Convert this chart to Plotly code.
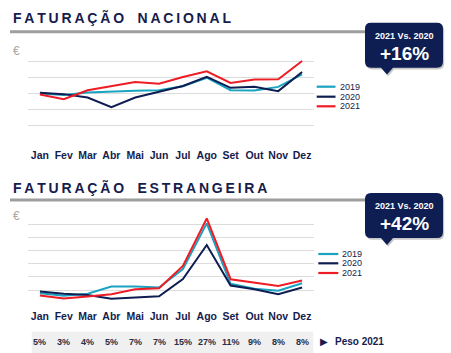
import plotly.graph_objects as go

W, H = 451, 353
def X(p): return p / W
def Y(p): return 1 - p / H

months = ["Jan", "Fev", "Mar", "Abr", "Mai", "Jun", "Jul", "Ago", "Set", "Out", "Nov", "Dez"]
series_names = ["2019", "2020", "2021"]

# Faturação Nacional (relative scale)
nac_2019 = [3.00, 2.90, 3.06, 3.13, 3.17, 3.21, 3.46, 4.00, 3.21, 3.19, 3.42, 4.21]
nac_2020 = [3.04, 2.96, 2.75, 2.14, 2.75, 3.10, 3.48, 4.05, 3.36, 3.42, 3.15, 4.36]
nac_2021 = [2.94, 2.64, 3.21, 3.48, 3.73, 3.62, 4.05, 4.41, 3.67, 3.88, 3.90, 5.06]

# Faturação Estrangeira
est_2019 = [0.76, 0.56, 0.71, 1.26, 1.26, 1.19, 2.60, 6.07, 1.47, 1.09, 0.94, 1.52]
est_2020 = [0.88, 0.71, 0.63, 0.33, 0.43, 0.53, 1.84, 4.42, 1.34, 1.06, 0.68, 1.19]
est_2021 = [0.58, 0.35, 0.51, 0.68, 1.06, 1.14, 2.83, 6.44, 1.82, 1.57, 1.31, 1.72]

peso_2021 = ["5%", "3%", "4%", "5%", "7%", "7%", "15%", "27%", "11%", "9%", "8%", "8%"]

titles = ["FATURAÇÃO NACIONAL", "FATURAÇÃO ESTRANGEIRA"]
badge_label = "2021 Vs. 2020"
badge_values = ["+16%", "+42%"]
peso_label = "Peso 2021"

colors = ["#1AA3C0", "#0E1D52", "#EE1C25"]
NAVY = "#0E1D52"
TEXT = "#161C4C"
FONT = "Liberation Sans, Arial, sans-serif"

fig = go.Figure()
for vals, name, c in zip([nac_2019, nac_2020, nac_2021], series_names, colors):
    fig.add_trace(go.Scatter(x=months, y=vals, mode="lines", name=name,
                             line=dict(color=c, width=2), xaxis="x", yaxis="y",
                             showlegend=False))
for vals, name, c in zip([est_2019, est_2020, est_2021], series_names, colors):
    fig.add_trace(go.Scatter(x=months, y=vals, mode="lines", name=name,
                             line=dict(color=c, width=2), xaxis="x2", yaxis="y2",
                             showlegend=False))

xdom = [X(28), X(314)]
common_x = dict(domain=xdom, range=[-0.5, 11.5], showgrid=False, zeroline=False,
                showline=False, ticks="", fixedrange=True,
                tickfont=dict(family=FONT, size=10.5, color=TEXT, weight="bold"))
common_y = dict(showticklabels=False, showgrid=True, gridcolor="#DCDCDC", gridwidth=1.3,
                zeroline=False, showline=False, ticks="", dtick=1, fixedrange=True)

fig.update_layout(
    width=W, height=H, margin=dict(l=0, r=0, t=0, b=0),
    paper_bgcolor="white", plot_bgcolor="white",
    xaxis=dict(**common_x, anchor="y", ticklabelstandoff=6),
    yaxis=dict(**common_y, domain=[Y(141), Y(46)], range=[-0.01, 6.01], anchor="x"),
    xaxis2=dict(**common_x, anchor="y2", ticklabelstandoff=5),
    yaxis2=dict(**common_y, domain=[Y(303.3), Y(211)], range=[-0.01, 7.01], anchor="x2"),
)

def spaced(s):
    return "\u2009".join("\u00a0\u00a0" if ch == " " else ch for ch in s)

def badge_path(x0, y0, x1, y1, r, tipx, tipy, hw, dx=0, dy=0):
    x0 += dx; x1 += dx; y0 += dy; y1 += dy; tipx += dx; tipy += dy
    pts = [
        ("M", [(x0 + r, y0)]),
        ("L", [(x1 - r, y0)]), ("Q", [(x1, y0), (x1, y0 + r)]),
        ("L", [(x1, y1 - r)]), ("Q", [(x1, y1), (x1 - r, y1)]),
        ("L", [(tipx + hw, y1)]), ("L", [(tipx, tipy)]), ("L", [(tipx - hw, y1)]),
        ("L", [(x0 + r, y1)]), ("Q", [(x0, y1), (x0, y1 - r)]),
        ("L", [(x0, y0 + r)]), ("Q", [(x0, y0), (x0 + r, y0)]),
    ]
    out = []
    for cmd, ps in pts:
        out.append(cmd + " ".join(f"{X(a):.5f},{Y(b):.5f}" for a, b in ps))
    return " ".join(out) + " Z"

shapes = []
annotations = []

panels = [
    dict(title_y=17.2, rule_y=31.7, euro_y=50.5, badge=(365, 22.7, 443, 67.7, 387, 74.5),
         leg_y=[86.7, 96.7, 106.3], leg_x=(316.7, 335.5, 337.5)),
    dict(title_y=187.2, rule_y=200, euro_y=216.2, badge=(365, 193, 443, 238, 387, 245),
         leg_y=[254, 263.3, 273], leg_x=(318.3, 338.3, 339.8)),
]

for i, p in enumerate(panels):
    annotations.append(dict(text=spaced(titles[i]), x=X(11), y=Y(p["title_y"]),
                            xref="paper", yref="paper", xanchor="left", yanchor="middle",
                            showarrow=False,
                            font=dict(family=FONT, size=14, color=TEXT, weight="bold")))
    shapes.append(dict(type="line", xref="paper", yref="paper", x0=X(10), x1=X(368),
                       y0=Y(p["rule_y"]), y1=Y(p["rule_y"]),
                       line=dict(color="#9E9E9E", width=3)))
    annotations.append(dict(text="€", x=X(16), y=Y(p["euro_y"]), xref="paper", yref="paper",
                            showarrow=False, xanchor="center", yanchor="middle",
                            font=dict(family=FONT, size=12, color="#A8A8A8")))
    bx0, by0, bx1, by1, tx, ty = p["badge"]
    shapes.append(dict(type="path", xref="paper", yref="paper",
                       path=badge_path(bx0, by0, bx1, by1, 6, tx, ty, 6, 1.2, 1.8),
                       fillcolor="rgba(0,0,0,0.22)", line=dict(width=0)))
    shapes.append(dict(type="path", xref="paper", yref="paper",
                       path=badge_path(bx0, by0, bx1, by1, 6, tx, ty, 6),
                       fillcolor=NAVY, line=dict(width=0)))
    cx = (bx0 + bx1) / 2
    annotations.append(dict(text=badge_label, x=X(cx), y=Y(by0 + 13), xref="paper", yref="paper",
                            showarrow=False, xanchor="center", yanchor="middle",
                            font=dict(family=FONT, size=9, color="white", weight="bold")))
    annotations.append(dict(text=badge_values[i], x=X(cx), y=Y(by0 + 30.5), xref="paper",
                            yref="paper", showarrow=False, xanchor="center", yanchor="middle",
                            font=dict(family=FONT, size=19, color="white", weight="bold")))
    lx0, lx1, ltx = p["leg_x"]
    for name, c, ly in zip(series_names, colors, p["leg_y"]):
        shapes.append(dict(type="line", xref="paper", yref="paper", x0=X(lx0), x1=X(lx1),
                           y0=Y(ly), y1=Y(ly), line=dict(color=c, width=2.2)))
        annotations.append(dict(text=name, x=X(ltx), y=Y(ly), xref="paper", yref="paper",
                                showarrow=False, xanchor="left", yanchor="middle",
                                font=dict(family=FONT, size=9, color=TEXT)))

# Peso 2021 band
shapes.append(dict(type="rect", xref="paper", yref="paper", x0=X(31.7), x1=X(313.3),
                   y0=Y(353), y1=Y(331.7), fillcolor="#F0F0F0", line=dict(width=0),
                   layer="below"))
for m, v in zip(months, peso_2021):
    annotations.append(dict(text=v, x=m, y=Y(341.8), xref="x2", yref="paper",
                            showarrow=False, xanchor="center", yanchor="middle",
                            font=dict(family=FONT, size=9, color="#2A2D45", weight="bold")))
annotations.append(dict(text="▶", x=X(323.5), y=Y(341.3), xref="paper", yref="paper",
                        showarrow=False, xanchor="center", yanchor="middle",
                        font=dict(family="DejaVu Sans", size=10, color=TEXT)))
annotations.append(dict(text=peso_label, x=X(333), y=Y(341.7), xref="paper", yref="paper",
                        showarrow=False, xanchor="left", yanchor="middle",
                        font=dict(family=FONT, size=10, color=TEXT, weight="bold")))

fig.update_layout(shapes=shapes, annotations=annotations)
fig.write_html("out.html")
